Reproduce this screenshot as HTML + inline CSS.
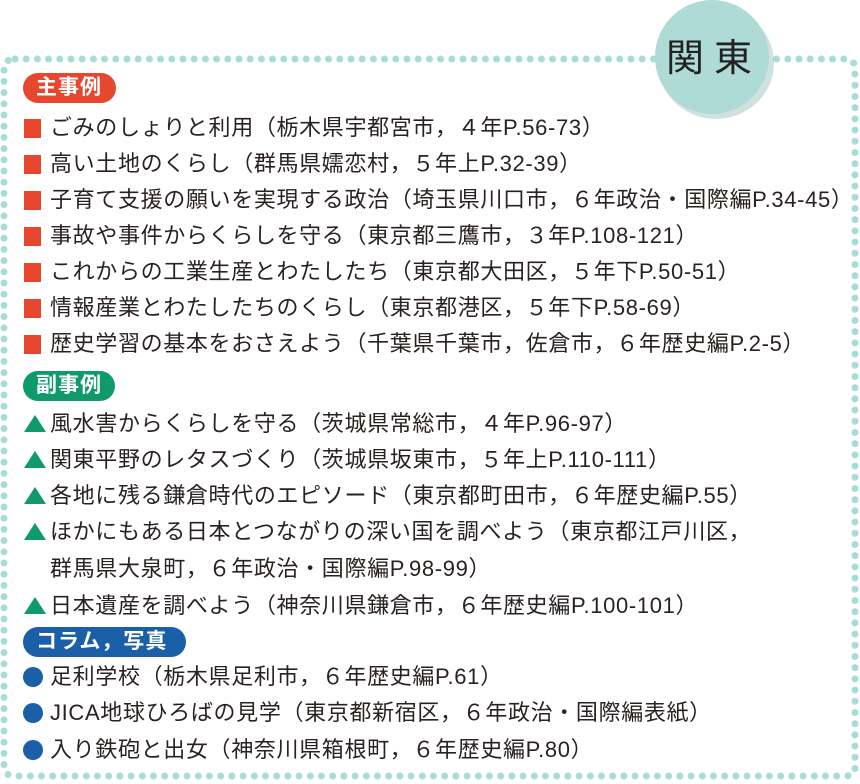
<!DOCTYPE html>
<html><head><meta charset="utf-8"><style>
body{margin:0;width:860px;height:784px;background:#fff;position:relative;overflow:hidden;font-family:"Liberation Sans","Noto Sans CJK JP",sans-serif;color:#2a2220}
.l{position:absolute;left:50px;font-size:22px;line-height:30px;white-space:nowrap;letter-spacing:0.65px}
.sq{position:absolute;left:24px;width:17px;height:19px;background:#e8472f}
.tr{position:absolute;left:24px;width:0;height:0;border-left:11px solid transparent;border-right:11px solid transparent;border-bottom:17px solid #0e9a6b}
.ci{position:absolute;left:23px;width:20px;height:20px;border-radius:50%;background:#1a5fa8}
.b{position:absolute;left:23px;height:30px;border-radius:15px;color:#fff;font-size:21px;font-weight:bold;line-height:30px;padding:0 0 0 13px;letter-spacing:1px}
</style></head><body>
<svg width="860" height="784" style="position:absolute;left:0;top:0">
<path d="M15 59 H845 Q855 59 855 69 V768 Q855 776 845 776 H15 Q4 776 4 766 V69 Q4 59 15 59 Z" fill="none" stroke="#a9dcd6" stroke-width="7" stroke-linecap="round" stroke-dasharray="0 11.2"/>
<ellipse cx="713" cy="60" rx="58" ry="56" fill="#7aa" opacity="0.35" transform="translate(3,3)"/>
<circle cx="712" cy="57" r="57" fill="#afdbd6"/>
<text x="714" y="71" text-anchor="middle" font-size="38" font-family="Liberation Sans, Noto Sans CJK JP, sans-serif" fill="#222" letter-spacing="10">関東</text>
</svg>
<div class="b" style="top:73px;width:80px;background:#e8472f">主事例</div>
<div class="sq" style="top:119px"></div><div class="l" style="top:113px">ごみのしょりと利用（栃木県宇都宮市，４年P.56-73）</div>
<div class="sq" style="top:155px"></div><div class="l" style="top:149px">高い土地のくらし（群馬県嬬恋村，５年上P.32-39）</div>
<div class="sq" style="top:191px"></div><div class="l" style="top:185px">子育て支援の願いを実現する政治（埼玉県川口市，６年政治・国際編P.34-45）</div>
<div class="sq" style="top:227px"></div><div class="l" style="top:221px">事故や事件からくらしを守る（東京都三鷹市，３年P.108-121）</div>
<div class="sq" style="top:263px"></div><div class="l" style="top:257px">これからの工業生産とわたしたち（東京都大田区，５年下P.50-51）</div>
<div class="sq" style="top:299px"></div><div class="l" style="top:293px">情報産業とわたしたちのくらし（東京都港区，５年下P.58-69）</div>
<div class="sq" style="top:335px"></div><div class="l" style="top:329px">歴史学習の基本をおさえよう（千葉県千葉市，佐倉市，６年歴史編P.2-5）</div>
<div class="b" style="top:371px;width:79px;background:#0e9a6b">副事例</div>
<div class="tr" style="top:415px"></div><div class="l" style="top:409px">風水害からくらしを守る（茨城県常総市，４年P.96-97）</div>
<div class="tr" style="top:451px"></div><div class="l" style="top:445px">関東平野のレタスづくり（茨城県坂東市，５年上P.110-111）</div>
<div class="tr" style="top:487px"></div><div class="l" style="top:481px">各地に残る鎌倉時代のエピソード（東京都町田市，６年歴史編P.55）</div>
<div class="tr" style="top:523px"></div><div class="l" style="top:517px">ほかにもある日本とつながりの深い国を調べよう（東京都江戸川区，</div>
<div class="l" style="top:554px">群馬県大泉町，６年政治・国際編P.98-99）</div>
<div class="tr" style="top:597px"></div><div class="l" style="top:591px">日本遺産を調べよう（神奈川県鎌倉市，６年歴史編P.100-101）</div>
<div class="b" style="top:627px;width:150px;background:#1a5fa8">コラム，写真</div>
<div class="ci" style="top:667px"></div><div class="l" style="top:662px">足利学校（栃木県足利市，６年歴史編P.61）</div>
<div class="ci" style="top:703px"></div><div class="l" style="top:698px">JICA地球ひろばの見学（東京都新宿区，６年政治・国際編表紙）</div>
<div class="ci" style="top:740px"></div><div class="l" style="top:735px">入り鉄砲と出女（神奈川県箱根町，６年歴史編P.80）</div>
</body></html>
